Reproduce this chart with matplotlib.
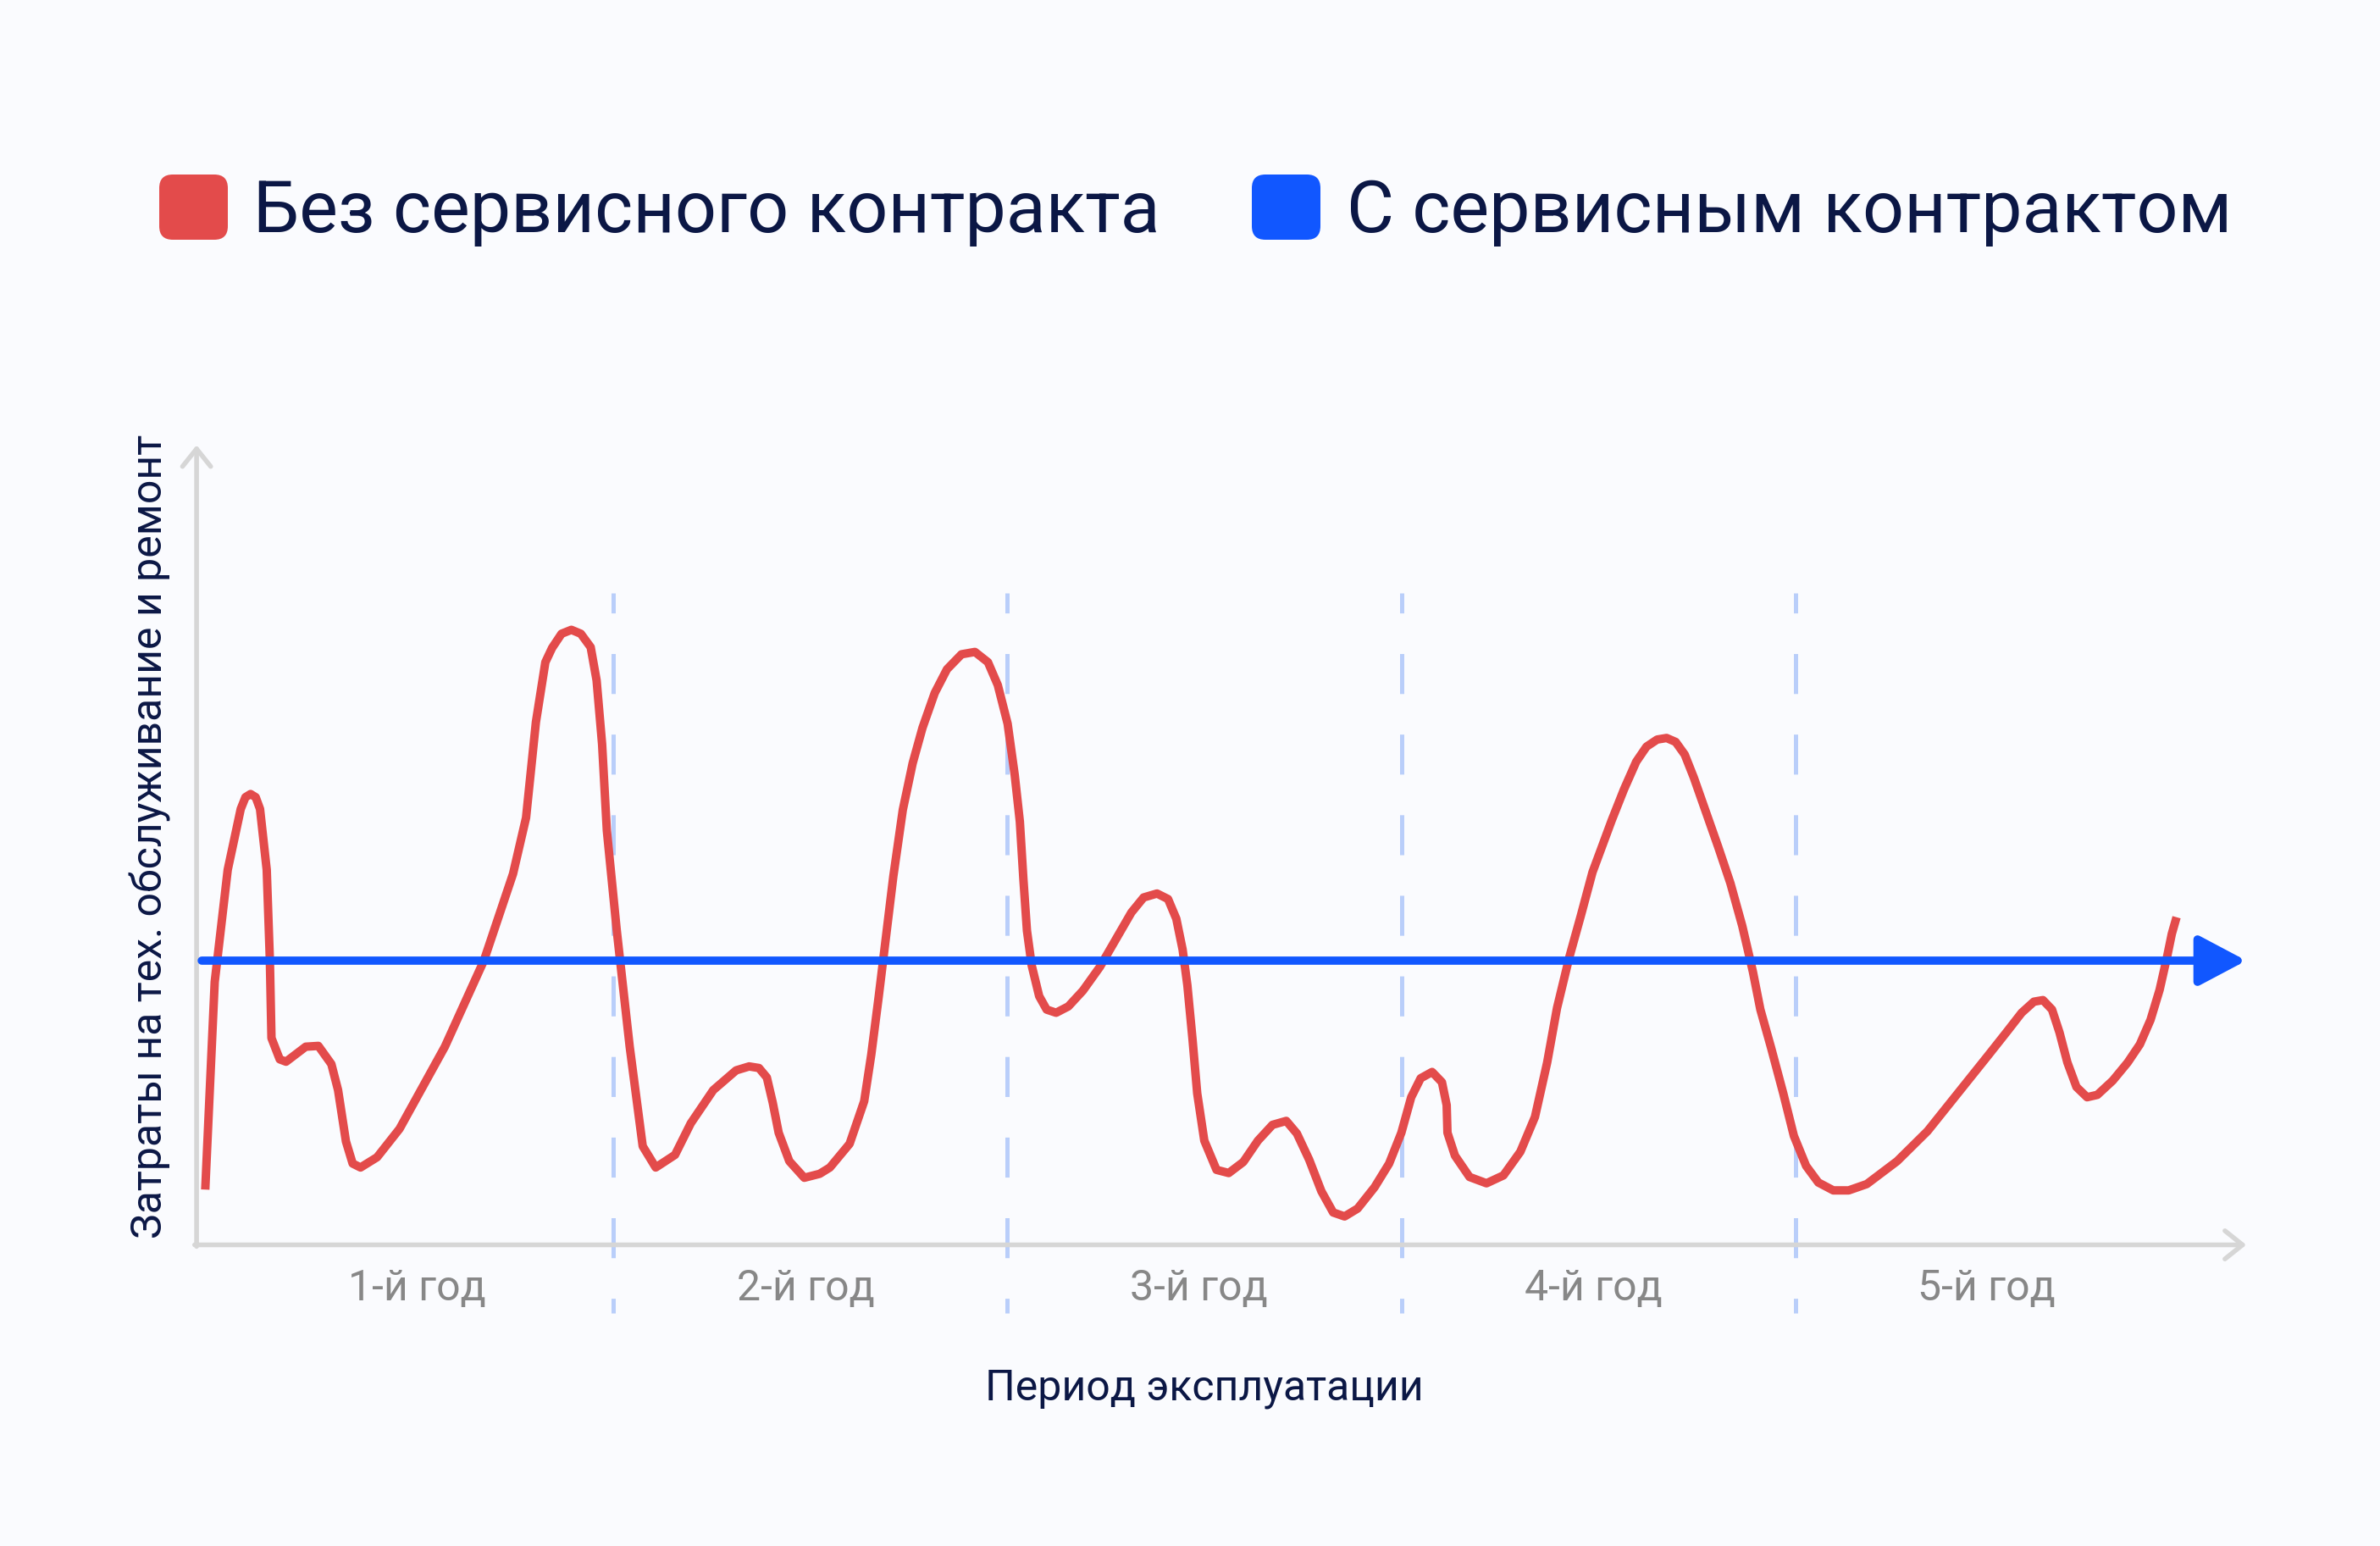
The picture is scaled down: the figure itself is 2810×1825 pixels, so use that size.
import matplotlib
matplotlib.use("Agg")
from matplotlib import pyplot as plt
from matplotlib.patches import FancyBboxPatch
from matplotlib.transforms import IdentityTransform

plt.rcParams["font.family"] = ["Roboto", "DejaVu Sans"]
plt.rcParams["lines.scale_dashes"] = False

# data: x in years, y in arbitrary cost units
years = [
    -0.035, -0.011, 0.022, 0.055, 0.067, 0.080, 0.093, 0.104, 0.121, 0.129,
    0.133, 0.154, 0.170, 0.220, 0.252, 0.285, 0.302, 0.322, 0.339, 0.359,
    0.401, 0.458, 0.573, 0.672, 0.746, 0.779, 0.804, 0.828, 0.845, 0.869,
    0.894, 0.918, 0.943, 0.958, 0.972, 0.984, 1.009, 1.042, 1.075, 1.108,
    1.157, 1.197, 1.254, 1.312, 1.345, 1.370, 1.390, 1.405, 1.420, 1.447,
    1.485, 1.524,
    1.550, 1.600, 1.637, 1.655, 1.674, 1.692, 1.711, 1.735, 1.760, 1.785,
    1.816, 1.847, 1.884, 1.918, 1.951, 1.976, 2.001, 2.019, 2.032, 2.041,
    2.050, 2.062, 2.081, 2.100, 2.124, 2.155, 2.192, 2.235, 2.278, 2.315,
    2.346, 2.380, 2.408, 2.429, 2.445, 2.457, 2.470, 2.482, 2.500, 2.531,
    2.562, 2.599, 2.636, 2.673, 2.708, 2.735, 2.766, 2.797, 2.827, 2.856,
    2.889, 2.932, 2.969, 3.000, 3.025, 3.049, 3.078, 3.103, 3.115, 3.117,
    3.136, 3.173, 3.216, 3.259, 3.302, 3.339, 3.370, 3.395, 3.426, 3.456,
    3.485, 3.534, 3.565, 3.596, 3.622, 3.649, 3.673, 3.696, 3.719, 3.742,
    3.773, 3.804, 3.835, 3.865, 3.892, 3.911, 3.938, 3.969, 3.996, 4.027,
    4.058, 4.096, 4.135, 4.181, 4.258, 4.335, 4.412, 4.489, 4.535, 4.574,
    4.605, 4.628, 4.651, 4.670, 4.690, 4.713, 4.740, 4.766, 4.805, 4.843,
    4.874, 4.901, 4.924, 4.943, 4.955, 4.967,
]
cost_no_contract = [
    7.0, 33.3, 47.5, 55.2, 56.7, 57.1, 56.7, 55.2, 47.5, 36.0,
    26.2, 23.5, 23.2, 25.1, 25.2, 22.9, 19.6, 13.1, 10.3, 9.8,
    11.1, 14.7, 25.1, 36.0, 47.0, 54.1, 66.2, 73.8, 75.6, 77.4,
    77.9, 77.4, 75.7, 71.5, 63.4, 52.5, 39.9, 25.1, 12.5, 9.8,
    11.4, 15.4, 19.6, 22.1, 22.6, 22.4, 21.2, 18.0, 14.2, 10.6,
    8.5, 9.0,
    9.8, 12.8, 18.2, 24.1, 31.5, 38.9, 46.7, 55.1, 61.0, 65.5,
    69.9, 72.9, 74.8, 75.1, 73.8, 70.9, 66.0, 59.5, 53.6, 46.3,
    39.8, 35.4, 31.5, 29.8, 29.4, 30.2, 32.2, 35.2, 38.9, 42.1,
    44.0, 44.5, 43.8, 41.3, 37.4, 32.9, 26.1, 19.2, 13.2, 9.5,
    9.1, 10.5, 13.2, 15.2, 15.7, 14.1, 10.8, 6.8, 4.1, 3.6,
    4.6, 7.3, 10.3, 14.2, 18.7, 21.1, 21.9, 20.6, 17.7, 14.2,
    11.3, 8.6, 7.8, 8.8, 11.8, 16.2, 23.1, 30.0, 36.4, 41.8,
    47.2, 53.8, 57.7, 61.2, 63.1, 64.0, 64.2, 63.7, 62.1, 59.2,
    54.8, 50.4, 45.8, 40.4, 34.6, 29.8, 25.0, 19.2, 13.8, 10.0,
    7.9, 6.9, 6.9, 7.7, 10.6, 14.4, 19.2, 24.0, 26.9, 29.4,
    30.8, 31.0, 29.8, 26.9, 23.1, 20.0, 18.7, 19.0, 20.8, 23.1,
    25.4, 28.5, 32.3, 36.5, 39.4, 41.5,
]
cost_with_contract = 36.0
contract_span = [-0.044, 5.144]
year_bounds = [1, 2, 3, 4]
year_labels = ["1-й год", "2-й год", "3-й год", "4-й год", "5-й год"]
year_label_pos = [0.503, 1.489, 2.487, 3.488, 4.485]
series_labels = ["Без сервисного контракта", "С сервисным контрактом"]

RED = "#E34B4B"
BLUE = "#1157FF"
NAVY = "#0B1745"

fig = plt.figure(figsize=(28.1, 18.25), dpi=100, facecolor="#fafbfe")
ax = fig.add_axes([0.0821, 0.1335, 0.8710, 0.5873])
ax.set_xlim(-0.06, 5.2)
ax.set_ylim(-12, 103)
ax.set_axis_off()

# axes arrows
gray_arrow = dict(arrowstyle="->,head_length=0.15,head_width=0.12", mutation_scale=100,
                  color="#d6d6d6", lw=4.0, shrinkA=0, shrinkB=0, capstyle="round")
ax.annotate("", xy=(-0.057, 101.3), xytext=(-0.057, -0.2), arrowprops=gray_arrow)
ax.annotate("", xy=(5.144, 0), xytext=(-0.062, 0), arrowprops=gray_arrow)

# year separators
for b in year_bounds:
    ax.plot([b, b], [82.6, -8.6], color="#b9cefa", lw=3.6,
            linestyle=(17, (34, 34.5)), zorder=1)

ax.plot(years, cost_no_contract, color=RED, lw=7.2, solid_joinstyle="round",
        solid_capstyle="butt", zorder=3)

ax.annotate("", xy=(contract_span[1], cost_with_contract),
            xytext=(contract_span[0], cost_with_contract),
            arrowprops=dict(arrowstyle="-|>,head_length=0.34,head_width=0.18",
                            mutation_scale=100, color=BLUE, lw=7,
                            shrinkA=0, shrinkB=0), zorder=4)

for pos, lab in zip(year_label_pos, year_labels):
    ax.text(pos, -7.0, lab, ha="center", va="baseline", fontsize=36,
            color="#878787")

ax.text(2.5, -19.6, "Период эксплуатации", ha="center", va="baseline",
        fontsize=36, color=NAVY)
ax.text(-0.175, 51.7, "Затраты на тех. обслуживание и ремонт", rotation=90,
        ha="center", va="center", fontsize=36, color=NAVY)

# legend drawn by hand
r = 16
for (x0, color), lab, tx in zip([(188, RED), (1478, BLUE)], series_labels, [299, 1590]):
    sq = FancyBboxPatch((x0 + r, 1542 + r), 81 - 2 * r, 77 - 2 * r,
                        boxstyle=f"round,pad={r},rounding_size={r}",
                        transform=IdentityTransform(), facecolor=color,
                        edgecolor="none")
    fig.patches.append(sq)
    fig.text(tx / 2810, 1 - 274 / 1825, lab, ha="left", va="baseline",
             fontsize=62, color=NAVY)

fig.savefig("out.png", dpi=100, facecolor=fig.get_facecolor())
